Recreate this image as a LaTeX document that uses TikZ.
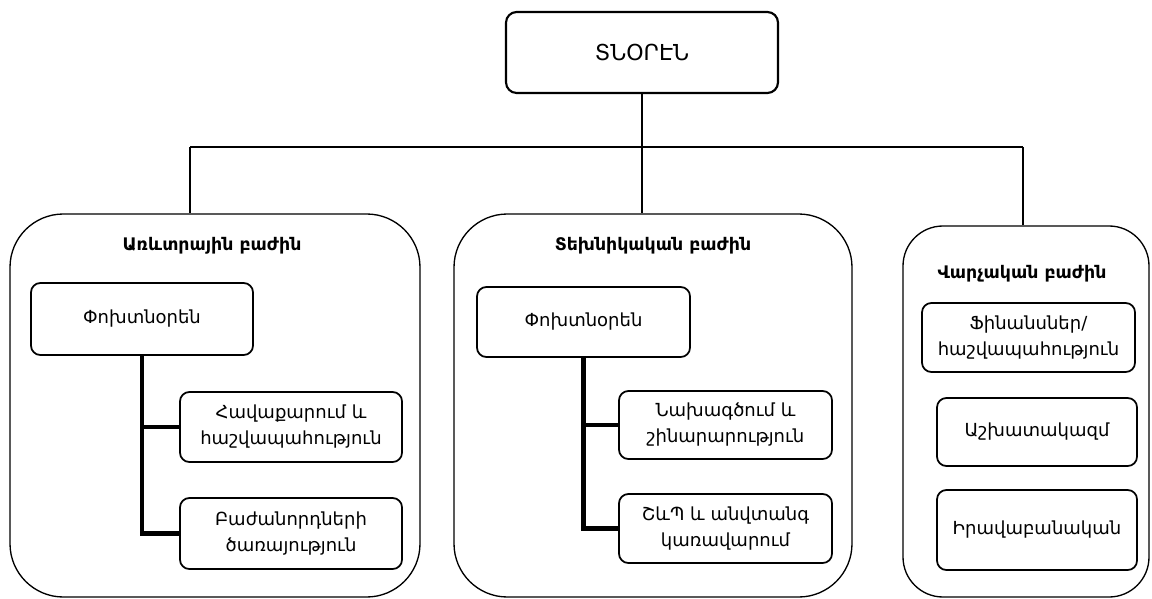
\documentclass[tikz,border=0pt]{standalone}
\usepackage{fontspec}
\setmainfont{DejaVu Sans}
\begin{document}
\begin{tikzpicture}[x=0.75pt,y=-0.75pt,
  sz/.style 2 args={minimum width={#1*0.75pt}, minimum height={#2*0.75pt}},
  panel/.style={draw, line width=1pt, rounded corners=40pt, inner sep=0pt},
  sbox/.style={draw, line width=1.3pt, rounded corners=7pt, inner sep=0pt, align=center,
    font=\fontsize{13.5}{19.5}\selectfont},
  topbox/.style={draw, line width=1.6pt, rounded corners=8pt, inner sep=0pt,
    font=\fontsize{16.5}{20}\selectfont},
  ttl/.style={font=\bfseries\fontsize{13}{16}\selectfont},
  thin/.style={line width=0.8pt},
  thickl/.style={line width=3.4pt}]
\useasboundingbox[fill=white] (0,0) rectangle (1152,599);
% director
\node[topbox, sz={272}{81}] (top) at (642,52.5) {ՏՆՕՐԷՆ};
% panels
\node[panel, sz={410}{383}] (pA) at (215,405.5) {};
\node[panel, sz={398}{383}] (pB) at (653,405.5) {};
\node[panel, rounded corners=30pt, sz={246}{371}] (pC) at (1026,411.5) {};
% titles
\node[ttl] (tA) at (212,246) {Առևտրային բաժին};
\node[ttl] (tB) at (653,246) {Տեխնիկական բաժին};
\node[ttl] (tC) at (1022,274) {Վարչական բաժին};
% left panel boxes
\node[sbox, sz={222}{72}] (a1) at (142,319) {Փոխտնօրեն};
\node[sbox, sz={222}{70}] (a2) at (291,427) {Հավաքարում և\\հաշվապահություն};
\node[sbox, sz={222}{71}] (a3) at (291,533.5) {Բաժանորդների\\ծառայություն};
% middle panel boxes
\node[sbox, sz={213}{70}] (b1) at (583.5,322) {Փոխտնօրեն};
\node[sbox, sz={213}{68}] (b2) at (725.5,425) {Նախագծում և\\շինարարություն};
\node[sbox, sz={213}{69}] (b3) at (725.5,528.5) {ՇևՊ և անվտանգ\\կառավարում};
% right panel boxes
\node[sbox, sz={213}{69}] (c1) at (1028.5,337.5) {Ֆինանսներ/\\հաշվապահություն};
\node[sbox, sz={200}{68}] (c2) at (1037,432) {Աշխատակազմ};
\node[sbox, sz={200}{80}] (c3) at (1037,530) {Իրավաբանական};
% top connectors
\coordinate (hM) at (top.south |- 0,147);
\coordinate (hL) at (190,147);
\coordinate (hR) at (1023,147);
\draw[thin] (top.south) -- (hM);
\draw[thin] (hL) -- (hR);
\draw[thin] (hL) -- (hL |- pA.north);
\draw[thin] (hM) -- (hM |- pB.north);
\draw[thin] (hR) -- (hR |- pC.north);
% inner connectors
\draw[thickl] (a1.south) |- (a3.west);
\draw[thickl] (a1.south |- a2.west) -- (a2.west);
\draw[thickl] (b1.south) |- (b3.west);
\draw[thickl] (b1.south |- b2.west) -- (b2.west);
\end{tikzpicture}
\end{document}
